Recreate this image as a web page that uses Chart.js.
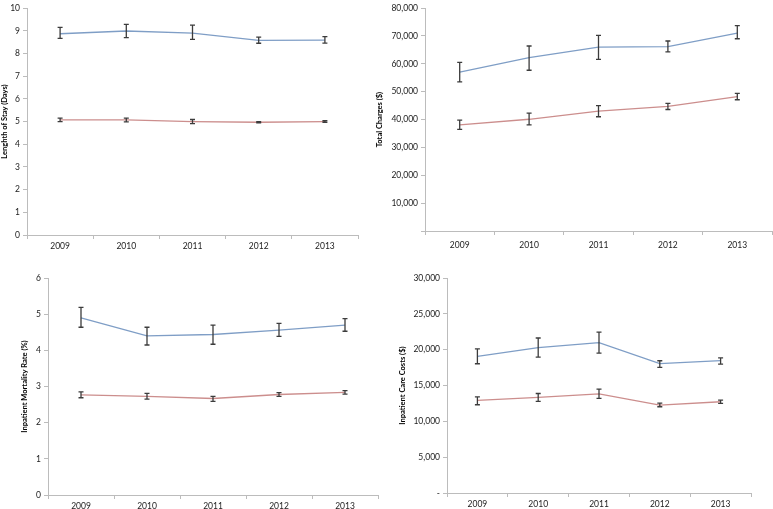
<!DOCTYPE html>
<html>
<head>
<meta charset="utf-8">
<script src="https://cdn.jsdelivr.net/npm/chart.js@4/dist/chart.umd.min.js"></script>
<style>
html,body{margin:0;padding:0;background:#fff;overflow:hidden;width:773px;height:509px;}
.p{position:absolute;}
</style>
</head>
<body>
<div class="p" id="w1" style="left:0;top:0;width:362px;height:255px"><canvas id="c1"></canvas></div>
<div class="p" id="w2" style="left:375px;top:0;width:398px;height:251px"><canvas id="c2"></canvas></div>
<div class="p" id="w3" style="left:20px;top:270px;width:360px;height:239px"><canvas id="c3"></canvas></div>
<div class="p" id="w4" style="left:398px;top:270px;width:355px;height:237px"><canvas id="c4"></canvas></div>
<script>
const years = ['2009','2010','2011','2012','2013'];

const losBlue   = [8.87, 8.99, 8.90, 8.58, 8.59];
const losBlueHi = [9.15, 9.28, 9.25, 8.72, 8.74];
const losBlueLo = [8.67, 8.70, 8.62, 8.45, 8.46];
const losRed    = [5.07, 5.07, 5.00, 4.97, 5.00];
const losRedHi  = [5.15, 5.15, 5.09, 5.00, 5.04];
const losRedLo  = [5.00, 4.99, 4.91, 4.94, 4.97];

const chgBlue   = [57000, 62200, 66000, 66200, 71000];
const chgBlueHi = [60500, 66400, 70200, 68200, 73700];
const chgBlueLo = [53500, 57700, 61600, 64300, 69000];
const chgRed    = [38100, 40100, 43000, 44700, 48200];
const chgRedHi  = [39800, 42300, 45000, 45800, 49400];
const chgRedLo  = [36500, 38100, 41000, 43600, 47100];

const mortBlue   = [4.90, 4.40, 4.44, 4.56, 4.70];
const mortBlueHi = [5.19, 4.64, 4.70, 4.75, 4.88];
const mortBlueLo = [4.64, 4.15, 4.17, 4.39, 4.53];
const mortRed    = [2.77, 2.73, 2.67, 2.78, 2.84];
const mortRedHi  = [2.85, 2.81, 2.73, 2.83, 2.89];
const mortRedLo  = [2.69, 2.65, 2.59, 2.73, 2.79];

const costBlue   = [19060, 20300, 21000, 18050, 18470];
const costBlueHi = [20120, 21640, 22470, 18460, 18870];
const costBlueLo = [18040, 18970, 19520, 17540, 18000];
const costRed    = [12920, 13340, 13840, 12280, 12740];
const costRedHi  = [13430, 13890, 14490, 12550, 12970];
const costRedLo  = [12320, 12780, 13200, 12040, 12510];

const BLUE = '#7f9ec6';
const RED = '#cc8e8d';
const AXIS = '#bcbcbc';
const FONT = 'Lato, "Open Sans", sans-serif';

const errorBars = {
  id: 'errorBars',
  afterDatasetsDraw(chart) {
    const ctx = chart.ctx;
    const xs = chart.scales.x, ys = chart.scales.y;
    ctx.save();
    ctx.strokeStyle = '#3c3c3c';
    ctx.lineWidth = 1.3;
    chart.data.datasets.forEach(ds => {
      if (!ds.hi) return;
      ds.data.forEach((v, i) => {
        const x = xs.getPixelForValue(i);
        const yh = ys.getPixelForValue(ds.hi[i]);
        const yl = ys.getPixelForValue(ds.lo[i]);
        ctx.beginPath();
        ctx.moveTo(x, yh); ctx.lineTo(x, yl);
        ctx.moveTo(x - 2.5, yh); ctx.lineTo(x + 2.5, yh);
        ctx.moveTo(x - 2.5, yl); ctx.lineTo(x + 2.5, yl);
        ctx.stroke();
      });
    });
    ctx.restore();
  }
};

function fmt(v) { return Number(v).toLocaleString('en-US'); }

function make(id, cfg) {
  const ds = [
    {data: cfg.blue, hi: cfg.blueHi, lo: cfg.blueLo, borderColor: BLUE, borderWidth: 1.3, pointRadius: 0, tension: 0},
    {data: cfg.red, hi: cfg.redHi, lo: cfg.redLo, borderColor: RED, borderWidth: 1.3, pointRadius: 0, tension: 0}
  ];
  new Chart(document.getElementById(id), {
    type: 'line',
    data: {labels: years, datasets: ds},
    plugins: [errorBars],
    options: {
      responsive: true, maintainAspectRatio: false, animation: false,
      layout: {padding: {top: cfg.padTop, right: cfg.padRight, left: 0, bottom: 0}},
      plugins: {legend: {display: false}, tooltip: {enabled: false}},
      scales: {
        x: {
          offset: true,
          grid: {display: true, offset: true, drawOnChartArea: false, drawTicks: true, tickLength: 4, color: AXIS},
          border: {display: true, color: AXIS, width: 1},
          ticks: {font: {family: FONT, size: 8.5}, color: '#222', padding: cfg.xPad, maxRotation: 0},
          afterFit(s) { s.height = cfg.xH; }
        },
        y: {
          min: 0, max: cfg.max,
          grid: {display: true, drawOnChartArea: false, drawTicks: true, tickLength: 4, color: AXIS},
          border: {display: true, color: AXIS, width: 1},
          ticks: {stepSize: cfg.step, font: {family: FONT, size: 8.5}, color: '#222', padding: 3, callback: cfg.cb},
          title: {display: true, text: cfg.title, font: {family: FONT, size: 7.5, weight: 'bold'}, color: '#000', padding: 0},
          afterFit(s) { s.width = cfg.yW; }
        }
      }
    }
  });
}

make('c1', {blue: losBlue, blueHi: losBlueHi, blueLo: losBlueLo, red: losRed, redHi: losRedHi, redLo: losRedLo,
  max: 10, step: 1, title: 'Lenghth of Stay (Days)', padTop: 3, padRight: 4, xH: 20, xPad: 2, yW: 27,
  cb: v => String(v)});
make('c2', {blue: chgBlue, blueHi: chgBlueHi, blueLo: chgBlueLo, red: chgRed, redHi: chgRedHi, redLo: chgRedLo,
  max: 80000, step: 10000, title: 'Total Charges ($)', padTop: 3, padRight: 1, xH: 20, xPad: 5, yW: 50,
  cb: v => v === 0 ? '' : fmt(v)});
make('c3', {blue: mortBlue, blueHi: mortBlueHi, blueLo: mortBlueLo, red: mortRed, redHi: mortRedHi, redLo: mortRedLo,
  max: 6, step: 1, title: 'Inpatient Mortality Rate (%)', padTop: 7, padRight: 2, xH: 14, xPad: 2, yW: 28,
  cb: v => String(v)});
make('c4', {blue: costBlue, blueHi: costBlueHi, blueLo: costBlueLo, red: costRed, redHi: costRedHi, redLo: costRedLo,
  max: 30000, step: 5000, title: 'Inpatient Care Costs ($)', padTop: 6, padRight: 2, xH: 14, xPad: 2, yW: 49,
  cb: v => v === 0 ? '-' : fmt(v)});
</script>
</body>
</html>
